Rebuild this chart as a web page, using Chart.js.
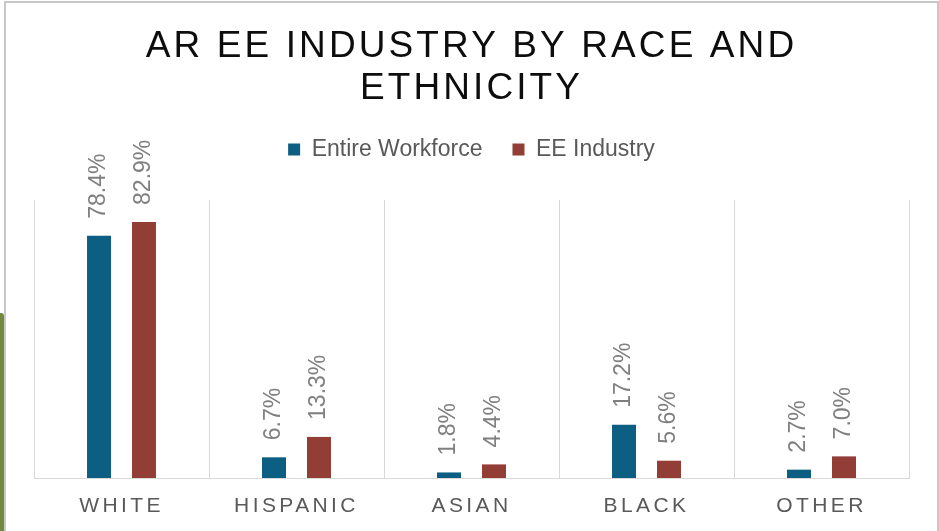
<!DOCTYPE html>
<html>
<head>
<meta charset="utf-8">
<script src="https://cdn.jsdelivr.net/npm/chart.js@4/dist/chart.umd.min.js"></script>
<style>
  html, body { margin: 0; padding: 0; background: #fff; overflow: hidden; }
  #wrap { position: relative; width: 939px; height: 531px; }
  #population { position: absolute; left: 0; top: 0; }
  #frame { position: absolute; left: 4px; top: 1px; width: 935px; height: 600px;
           border: 2px solid #c8c8c8; box-sizing: border-box; pointer-events: none; }
  #strip { position: absolute; left: 0; top: 313px; width: 4px; height: 218px;
           background: #71893f; border-top-right-radius: 3px; }
</style>
</head>
<body>
<div id="wrap">
  <canvas id="population" width="939" height="531"></canvas>
  <div id="frame"></div>
  <div id="strip"></div>
</div>
<script>
const titleLines = ['AR EE INDUSTRY BY RACE AND', 'ETHNICITY'];
const categories = ['WHITE', 'HISPANIC', 'ASIAN', 'BLACK', 'OTHER'];
const workforce = [78.4, 6.7, 1.8, 17.2, 2.7];
const eeIndustry = [82.9, 13.3, 4.4, 5.6, 7.0];

Chart.defaults.font.family = '"Liberation Sans", Arial, sans-serif';

// category axis whose labels are drawn with letter spacing
class SpacedCategoryScale extends Chart.CategoryScale {
    drawLabels(chartArea) {
        const ctx = this.ctx;
        ctx.save();
        ctx.letterSpacing = '3.4px';
        super.drawLabels(chartArea);
        ctx.restore();
    }
}
SpacedCategoryScale.id = 'spacedCategory';
Chart.register(SpacedCategoryScale);

const spacedTitle = {
    id: 'spacedTitle',
    afterDraw(chart) {
        const ctx = chart.ctx;
        const area = chart.chartArea;
        ctx.save();
        ctx.font = '37px "Liberation Sans", Arial, sans-serif';
        ctx.letterSpacing = '3.1px';
        ctx.fillStyle = '#0d0d0d';
        ctx.textAlign = 'center';
        ctx.textBaseline = 'alphabetic';
        const cx = (area.left + area.right) / 2;
        titleLines.forEach((line, i) => ctx.fillText(line, cx, 57 + i * 42));
        ctx.restore();
    }
};

const valueLabels = {
    id: 'valueLabels',
    afterDatasetsDraw(chart) {
        const ctx = chart.ctx;
        ctx.save();
        ctx.font = '23px "Liberation Sans", Arial, sans-serif';
        ctx.fillStyle = '#808080';
        ctx.textAlign = 'left';
        ctx.textBaseline = 'middle';
        chart.data.datasets.forEach((ds, di) => {
            chart.getDatasetMeta(di).data.forEach((bar, i) => {
                ctx.save();
                ctx.translate(bar.x, bar.y - 17);
                ctx.rotate(-Math.PI / 2);
                ctx.fillText(ds.data[i].toFixed(1) + '%', 0, 0);
                ctx.restore();
            });
        });
        ctx.restore();
    }
};

const data = {
    labels: categories,
    datasets: [{
        label: 'Entire Workforce',
        data: workforce,
        backgroundColor: '#0c5e83',
        borderWidth: 0
    }, {
        label: 'EE Industry',
        data: eeIndustry,
        backgroundColor: '#923d35',
        borderWidth: 0
    }]
};

const options = {
    responsive: false,
    animation: false,
    categoryPercentage: 0.514,
    barPercentage: 0.533,
    layout: {
        padding: {top: 108, left: 34, right: 30, bottom: 13}
    },
    scales: {
        x: {
            type: 'spacedCategory',
            grid: {color: '#d9d9d9', lineWidth: 1, drawTicks: false},
            border: {color: '#d9d9d9', width: 1},
            ticks: {color: '#595959', font: {size: 21}, padding: 16},
            afterFit(scale) { scale.height = 40; }
        },
        spacer: {
            type: 'category',
            position: 'top',
            grid: {display: false, drawTicks: false},
            border: {display: false},
            ticks: {display: false},
            afterFit(scale) { scale.height = 29; }
        },
        y: {
            display: false,
            min: 0,
            max: 90
        }
    },
    plugins: {
        legend: {
            position: 'top',
            labels: {
                boxWidth: 12,
                boxHeight: 12,
                padding: 30,
                color: '#595959',
                font: {size: 23}
            }
        },
        tooltip: {enabled: false}
    }
};

const ctx = document.getElementById('population');
const chart = new Chart(ctx, {
    type: 'bar',
    data: data,
    options: options,
    plugins: [spacedTitle, valueLabels]
});
</script>
</body>
</html>
